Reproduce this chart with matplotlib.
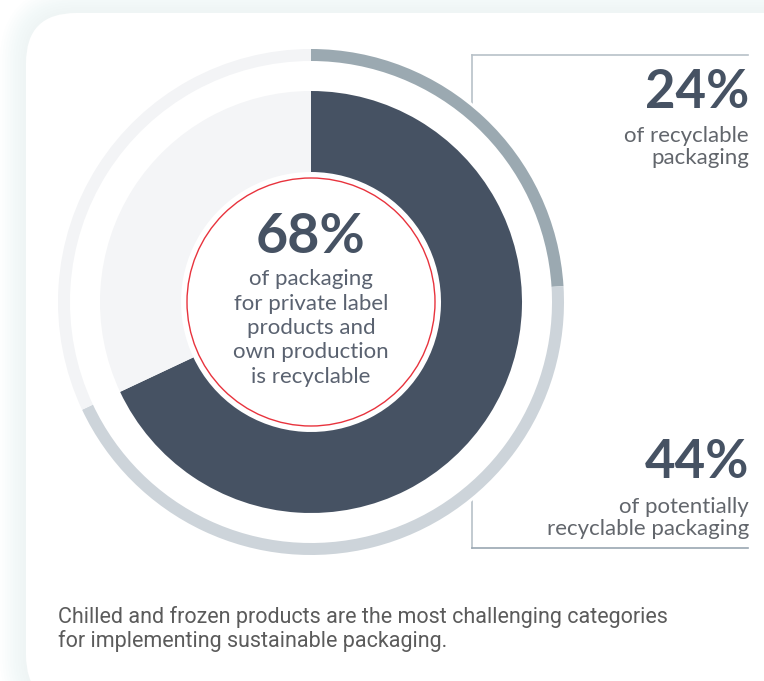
import matplotlib.pyplot as plt
from matplotlib.patches import Circle, FancyBboxPatch

# data
inner_values = [68, 32]
inner_colors = ["#465263", "#f4f5f7"]
outer_values = [24, 44, 32]
outer_colors = ["#9ba9b1", "#cdd4da", "#f3f4f6"]

center_big = "68%"
center_text = "of packaging\nfor private label\nproducts and\nown production\nis recyclable"
top_big = "24%"
top_text = "of recyclable\npackaging"
bottom_big = "44%"
bottom_text = "of potentially\nrecyclable packaging"
footnote = ("Chilled and frozen products are the most challenging categories\n"
            "for implementing sustainable packaging.")

W, H = 764, 681


def Y(y):
    # image pixel rows -> axes y (origin at bottom)
    return H - y


fig = plt.figure(figsize=(W / 100, H / 100), dpi=100)
ax = fig.add_axes([0, 0, 1, 1])
ax.set_xlim(0, W)
ax.set_ylim(0, H)
ax.axis("off")

# card with a soft cyan glow
for i in range(10, 0, -1):
    pad = i * 2.6
    ax.add_patch(FancyBboxPatch((26 - pad, Y(705) - pad), 800 + 2 * pad, 692 + 2 * pad,
                                boxstyle="round,pad=0,rounding_size=%g" % (50 + pad),
                                fc="#e3f4f5", ec="none", alpha=0.06, zorder=0))
ax.add_patch(FancyBboxPatch((26, Y(705)), 800, 692,
                            boxstyle="round,pad=0,rounding_size=50",
                            fc="white", ec="none", zorder=1))

cx, cy = 311, Y(302)

# bracket lines, hidden behind the rings
ax.plot([472, 748], [Y(55), Y(55)], color="#b8c1c8", lw=1.2, zorder=2)
ax.plot([472, 472], [Y(55), Y(548)], color="#b8c1c8", lw=1.2, zorder=2)
ax.plot([472, 748], [Y(548), Y(548)], color="#9aa7b2", lw=1.2, zorder=2)
ax.add_patch(Circle((cx, cy), 256, fc="white", ec="none", zorder=3))

ax.pie(outer_values, colors=outer_colors, radius=253, center=(cx, cy),
       startangle=90, counterclock=False, frame=True,
       wedgeprops=dict(width=12, edgecolor="none", zorder=4))
ax.pie(inner_values, colors=inner_colors, radius=211, center=(cx, cy),
       startangle=90, counterclock=False, frame=True,
       wedgeprops=dict(width=81, edgecolor="none", zorder=4))
ax.add_patch(Circle((cx, cy), 124, fc="white", ec="#e8333d", lw=1.0, zorder=5))

ax.set_xlim(0, W)
ax.set_ylim(0, H)
ax.set_aspect("auto")

dark = "#465263"
gray = "#62666c"

ax.text(cx, Y(237), center_big, ha="center", va="center", fontsize=40,
        fontweight="bold", family="Lato", color=dark, zorder=6)
ax.text(cx, Y(328), center_text, ha="center", va="center", fontsize=16,
        family="Lato", color="#5a6270", linespacing=1.27, zorder=6)

ax.text(749, Y(92), top_big, ha="right", va="center", fontsize=38,
        fontweight="bold", family="Lato", color=dark, zorder=6)
ax.text(749, Y(147), top_text, ha="right", va="center", fontsize=16,
        family="Lato", color=gray, linespacing=1.12, zorder=6)

ax.text(749, Y(463), bottom_big, ha="right", va="center", fontsize=38,
        fontweight="bold", family="Lato", color=dark, zorder=6)
ax.text(749, Y(518), bottom_text, ha="right", va="center", fontsize=16,
        family="Lato", color=gray, linespacing=1.12, zorder=6)

ax.text(58, Y(629), footnote, ha="left", va="center", fontsize=15.5,
        family="Roboto", color="#5b5b5b", linespacing=1.1, zorder=6)

fig.savefig("out.png", dpi=100)
